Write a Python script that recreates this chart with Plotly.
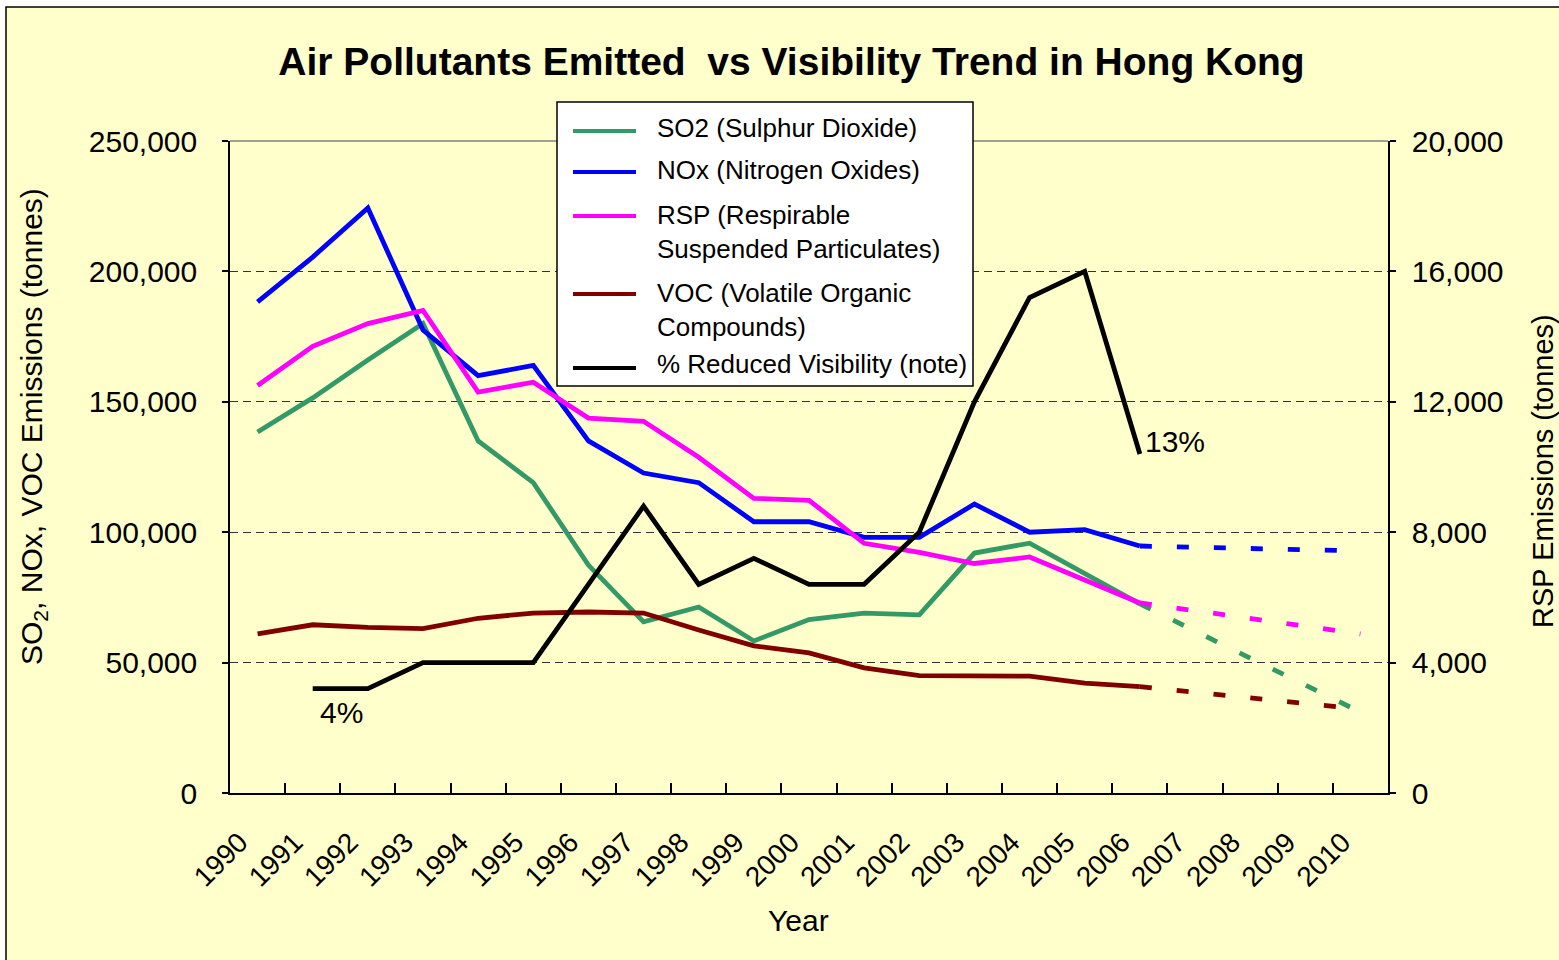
import plotly.graph_objects as go

# ---------------- data ----------------
years = [str(y) for y in range(1990, 2011)]
hist_years = [str(y) for y in range(1990, 2007)]
proj_years = ["2006", "2010"]

so2 = [138400, 151500, 166000, 180000, 135000, 119000, 87400, 65600, 71300, 58300,
       66500, 69000, 68300, 92000, 95800, 84300, 72500]
nox = [188300, 205500, 224300, 177500, 160000, 164000, 135000, 122700, 119000, 104000,
       104000, 98000, 98000, 110800, 100000, 101000, 94700]
voc = [61000, 64500, 63500, 63000, 67000, 69000, 69400, 69000, 62500, 56400,
       53700, 48000, 45000, 44800, 44800, 42100, 40800]
rsp = [12500, 13700, 14400, 14800, 12300, 12600, 11500, 11400, 10300, 9040,
       8980, 7660, 7380, 7040, 7240, 6540, 5830]
visibility = [None, 4, 4, 5, 5, 5, 8, 11, 8, 9, 8, 8, 10, 15, 19, 20, 13]  # % reduced visibility

so2_proj = [72500, 31000]
nox_proj = [94700, 92800]
voc_proj = [40800, 32200]
rsp_proj = [5830, 4880]

left_ticks = [0, 50000, 100000, 150000, 200000, 250000]
right_ticks = [0, 4000, 8000, 12000, 16000, 20000]

# ---------------- styling ----------------
FONT = "Liberation Sans, Arial, sans-serif"
C_SO2 = "#339966"
C_NOX = "#0000FF"
C_RSP = "#FF00FF"
C_VOC = "#800000"
C_VIS = "#000000"
BG = "#FFFFCC"

L, R, T, B = 230, 1388, 141, 793


def px(x):
    return (x - L) / (R - L)


def py(y):
    return (B - y) / (B - T)


fig = go.Figure()

LW = 4.8
DASH = "12px,25px"

# solid historical series
fig.add_trace(go.Scatter(x=hist_years, y=so2, mode="lines", name="SO2 (Sulphur Dioxide)",
                         line=dict(color=C_SO2, width=LW), showlegend=False))
fig.add_trace(go.Scatter(x=hist_years, y=nox, mode="lines", name="NOx (Nitrogen Oxides)",
                         line=dict(color=C_NOX, width=LW), showlegend=False))
fig.add_trace(go.Scatter(x=hist_years, y=voc, mode="lines", name="VOC (Volatile Organic Compounds)",
                         line=dict(color=C_VOC, width=LW), showlegend=False))
fig.add_trace(go.Scatter(x=hist_years, y=visibility, mode="lines", name="% Reduced Visibility (note)",
                         line=dict(color=C_VIS, width=LW), yaxis="y3", showlegend=False))
fig.add_trace(go.Scatter(x=hist_years, y=rsp, mode="lines", name="RSP (Respirable Suspended Particulates)",
                         line=dict(color=C_RSP, width=LW), yaxis="y2", showlegend=False))

# dashed projections
fig.add_trace(go.Scatter(x=proj_years, y=so2_proj, mode="lines", showlegend=False,
                         line=dict(color=C_SO2, width=LW, dash=DASH)))
fig.add_trace(go.Scatter(x=proj_years, y=nox_proj, mode="lines", showlegend=False,
                         line=dict(color=C_NOX, width=LW, dash=DASH)))
fig.add_trace(go.Scatter(x=proj_years, y=voc_proj, mode="lines", showlegend=False,
                         line=dict(color=C_VOC, width=LW, dash=DASH)))
fig.add_trace(go.Scatter(x=proj_years, y=rsp_proj, mode="lines", showlegend=False,
                         line=dict(color=C_RSP, width=LW, dash=DASH), yaxis="y2"))

shapes = []
# outer chart border / background
shapes.append(dict(type="rect", xref="paper", yref="paper",
                   x0=px(6), x1=px(1600), y0=py(1000), y1=py(7),
                   fillcolor=BG, line=dict(color="black", width=1.5), layer="below"))
# plot area top border (grey)
shapes.append(dict(type="line", xref="paper", yref="paper", x0=0, x1=1, y0=1, y1=1,
                   line=dict(color="#808080", width=1.5), layer="above"))

# manual legend
shapes.append(dict(type="rect", xref="paper", yref="paper",
                   x0=px(557), x1=px(973), y0=py(386), y1=py(102),
                   fillcolor="white", line=dict(color="black", width=1.5), layer="above"))

legend_items = [
    ("SO2 (Sulphur Dioxide)", C_SO2, 131, 128),
    ("NOx (Nitrogen Oxides)", C_NOX, 172, 170),
    ("RSP (Respirable<br>Suspended Particulates)", C_RSP, 216, 231.5),
    ("VOC (Volatile Organic<br>Compounds)", C_VOC, 294, 309.5),
    ("% Reduced Visibility (note)", C_VIS, 368, 364),
]

annotations = []
for text, color, ly, ty in legend_items:
    shapes.append(dict(type="line", xref="paper", yref="paper",
                       x0=px(573), x1=px(636), y0=py(ly), y1=py(ly),
                       line=dict(color=color, width=4), layer="above"))
    annotations.append(dict(text=text, xref="paper", yref="paper", x=px(655), y=py(ty),
                            xanchor="left", yanchor="middle", align="left", showarrow=False,
                            font=dict(family=FONT, size=26, color="black")))

# data labels
annotations.append(dict(text="4%", xref="paper", yref="paper", x=px(341), y=py(712),
                        xanchor="center", yanchor="middle", showarrow=False,
                        font=dict(family=FONT, size=30, color="black")))
annotations.append(dict(text="13%", xref="paper", yref="paper", x=px(1143), y=py(441),
                        xanchor="left", yanchor="middle", showarrow=False,
                        font=dict(family=FONT, size=30, color="black")))

# axis titles
annotations.append(dict(text="SO<sub>2</sub>, NOx, VOC Emissions (tonnes)", xref="paper", yref="paper",
                        x=px(33), y=py(427), textangle=-90, xanchor="center", yanchor="middle",
                        showarrow=False, font=dict(family=FONT, size=30, color="black")))
annotations.append(dict(text="RSP Emissions (tonnes)", xref="paper", yref="paper",
                        x=px(1543), y=py(471), textangle=-90, xanchor="center", yanchor="middle",
                        showarrow=False, font=dict(family=FONT, size=29, color="black")))
annotations.append(dict(text="Year", xref="paper", yref="paper",
                        x=px(798), y=py(920), xanchor="center", yanchor="middle",
                        showarrow=False, font=dict(family=FONT, size=30, color="black")))

fig.update_layout(
    width=1559, height=960,
    margin=dict(l=L, r=1559 - R, t=T, b=960 - B, pad=0),
    paper_bgcolor="white",
    plot_bgcolor=BG,
    font=dict(family=FONT, size=28, color="black"),
    title=dict(text="<b>Air Pollutants Emitted\u00a0 vs Visibility Trend in Hong Kong</b>",
               x=791.5 / 1559, y=1 - 61 / 960, xref="container", yref="container",
               xanchor="center", yanchor="middle",
               font=dict(family=FONT, size=39, color="black")),
    showlegend=False,
    xaxis=dict(type="category", categoryorder="array", categoryarray=years,
               range=[-0.5, len(years) - 0.5],
               tickmode="array", tickvals=years, ticktext=years,
               tickangle=-45, tickson="boundaries", ticks="inside", ticklen=10,
               tickcolor="black", tickwidth=1.5,
               showline=True, linecolor="black", linewidth=1.5,
               showgrid=False, zeroline=False,
               tickfont=dict(family=FONT, size=28), ticklabelstandoff=20,
               ticklabelshift=-18),
    yaxis=dict(range=[0, 250000], tickvals=left_ticks, tickformat=",",
               showline=True, linecolor="black", linewidth=1.5,
               ticks="outside", ticklen=6, tickcolor="black", tickwidth=1.5,
               showgrid=True, gridcolor="#333333", gridwidth=1, griddash="8px,5px",
               zeroline=False, tickfont=dict(family=FONT, size=30), ticklabelstandoff=19),
    yaxis2=dict(range=[0, 20000], tickvals=right_ticks, tickformat=",",
                overlaying="y", side="right",
                showline=True, linecolor="black", linewidth=1.5,
                ticks="outside", ticklen=6, tickcolor="black", tickwidth=1.5,
                showgrid=False, zeroline=False, tickfont=dict(family=FONT, size=30),
                ticklabelstandoff=10),
    yaxis3=dict(range=[0, 25], overlaying="y", side="left", visible=False,
                showgrid=False, zeroline=False),
    shapes=shapes,
    annotations=annotations,
)

fig.write_html("out.html", config={"displayModeBar": False},
               post_script="document.body.style.margin='0';document.body.style.padding='0';")
